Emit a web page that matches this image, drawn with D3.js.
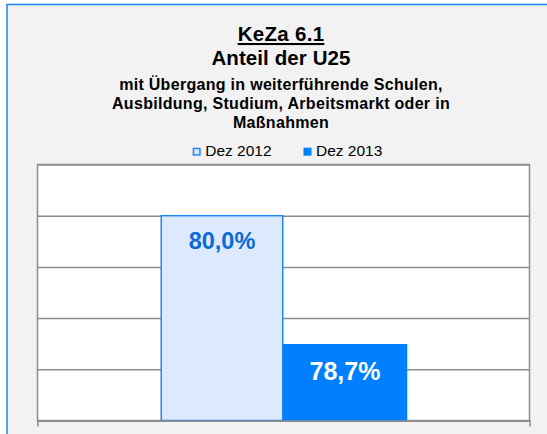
<!DOCTYPE html>
<html>
<head>
<meta charset="utf-8">
<script src="https://cdn.jsdelivr.net/npm/d3@7"></script>
<style>
  html, body { margin: 0; padding: 0; background: #fff; }
  text { font-family: "Liberation Sans", Arial, sans-serif; }
</style>
</head>
<body>
<script>
var width = 547, height = 434;

var categories = [""];
var series = ["Dez 2012", "Dez 2013"];
var values = [80.0, 78.74];
var valueLabels = ["80,0%", "78,7%"];
var yTicks = [78, 78.5, 79, 79.5, 80, 80.5];

var fills = ["#dde9fc", "#0080ff"];
var strokes = ["#1e88f5", "#0080ff"];
var labelColors = ["#0a6ad6", "#ffffff"];

var svg = d3.select("body").append("svg")
    .attr("width", width)
    .attr("height", height);

// chart background with blue frame
svg.append("rect")
    .attr("x", 7).attr("y", 4.5)
    .attr("width", 560).attr("height", 450)
    .attr("fill", "#f2f2f2")
    .attr("stroke", "#1a86f0")
    .attr("stroke-width", 1.5);

var plot = { left: 37.5, right: 529.5, top: 164.5, bottom: 420.5 };

var x = d3.scaleBand().domain(categories).range([plot.left, plot.right]);
var xs = d3.scaleBand().domain(series).range([x.bandwidth() * 0.25, x.bandwidth() * 0.75]);
var y = d3.scaleLinear().domain([78, 80.5]).range([plot.bottom, plot.top]);

// plot area
svg.append("rect")
    .attr("x", plot.left).attr("y", plot.top)
    .attr("width", plot.right - plot.left).attr("height", plot.bottom - plot.top)
    .attr("fill", "#fff")
    .attr("stroke", "#8c8c8c")
    .attr("stroke-width", 1.5);

var yAxis = d3.axisLeft(y).tickValues(yTicks).tickSize(-(plot.right - plot.left)).tickFormat("");
svg.append("g")
    .attr("transform", "translate(" + plot.left + ",0)")
    .call(yAxis)
    .call(g => g.select(".domain").remove())
    .call(g => g.selectAll("line").attr("stroke", "#8c8c8c").attr("stroke-width", 1.5));

var bars = svg.append("g");
series.forEach(function (s, i) {
  var bx = x(categories[0]) + xs(s);
  bars.append("rect")
    .attr("x", bx + (i === 0 ? 0.75 : 0))
    .attr("y", y(values[i]))
    .attr("width", xs.bandwidth() - (i === 0 ? 1.5 : 0))
    .attr("height", plot.bottom - y(values[i]))
    .attr("fill", fills[i])
    .attr("stroke", strokes[i])
    .attr("stroke-width", 1.5);
  bars.append("text")
    .attr("x", bx + xs.bandwidth() / 2)
    .attr("y", y(values[i]) + (i === 0 ? 33.5 : 35))
    .attr("text-anchor", "middle")
    .attr("font-weight", "bold")
    .attr("font-size", i === 0 ? 23.5 : 25)
    .attr("fill", labelColors[i])
    .text(valueLabels[i]);
});

// x axis: baseline and outer ticks
var xAxis = d3.axisBottom(x).tickSize(0).tickSizeOuter(6).tickFormat("");
svg.append("g")
    .attr("transform", "translate(0," + plot.bottom + ")")
    .call(xAxis)
    .call(g => g.select(".domain").attr("stroke", "#8c8c8c").attr("stroke-width", 1.5));

// titles
var cx = 281;
svg.append("text").attr("x", cx).attr("y", 41).attr("text-anchor", "middle")
    .attr("font-weight", "bold").attr("font-size", 20.5).attr("letter-spacing", 0.3)
    .attr("text-decoration", "underline").text("KeZa 6.1");
svg.append("text").attr("x", cx).attr("y", 65).attr("text-anchor", "middle")
    .attr("font-weight", "bold").attr("font-size", 20.5).attr("letter-spacing", 0.1)
    .text("Anteil der U25");
var subLines = ["mit Übergang in weiterführende Schulen,", "Ausbildung, Studium, Arbeitsmarkt oder in", "Maßnahmen"];
svg.selectAll(".sub").data(subLines).enter().append("text")
    .attr("class", "sub")
    .attr("x", cx).attr("y", (d, i) => 90 + i * 19.2)
    .attr("text-anchor", "middle")
    .attr("font-weight", "bold").attr("font-size", 16).attr("letter-spacing", 0.3)
    .text(d => d);

// legend
var legendX = [192.7, 303.5];
series.forEach(function (s, i) {
  svg.append("rect")
    .attr("x", legendX[i] + (i === 0 ? 0.75 : 0)).attr("y", 147.7 + (i === 0 ? 0.75 : 0))
    .attr("width", 8 - (i === 0 ? 1.5 : 0)).attr("height", 8 - (i === 0 ? 1.5 : 0))
    .attr("fill", fills[i])
    .attr("stroke", i === 0 ? strokes[i] : "none")
    .attr("stroke-width", 1.5);
  svg.append("text")
    .attr("x", legendX[i] + 12.5).attr("y", 156)
    .attr("font-size", 15.5)
    .text(s);
});
</script>
</body>
</html>
